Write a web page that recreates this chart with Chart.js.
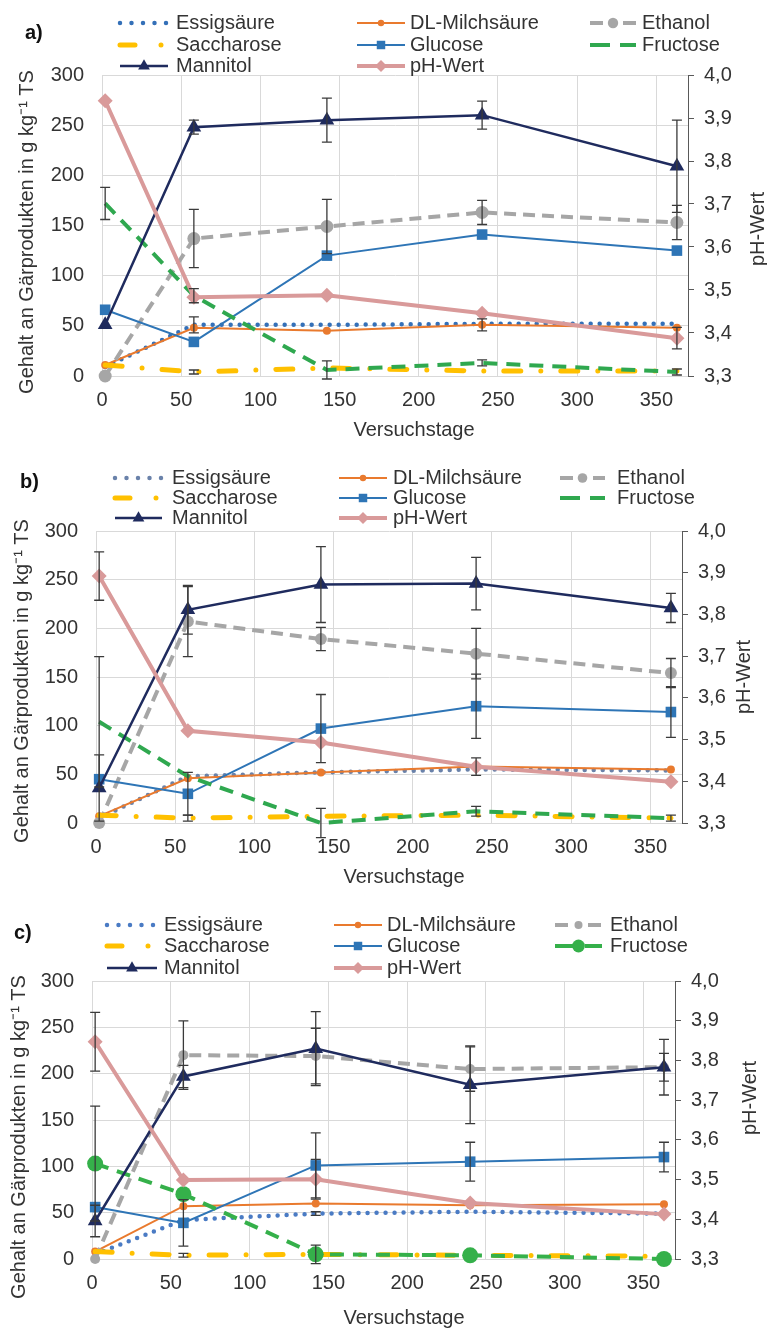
<!DOCTYPE html>
<html>
<head>
<meta charset="utf-8">
<script src="https://cdn.jsdelivr.net/npm/chart.js@4.4.1/dist/chart.umd.min.js"></script>
<style>
body{margin:0;background:#fff;overflow:hidden;width:767px;height:1328px;position:relative}
.panel{position:absolute;left:0;width:767px}
#pa{top:0;height:445px}
#pb{top:445px;height:450px}
#pc{top:895px;height:433px}
</style>
</head>
<body>
<div class="panel" id="pa"><canvas id="chartA"></canvas></div>
<div class="panel" id="pb"><canvas id="chartB"></canvas></div>
<div class="panel" id="pc"><canvas id="chartC"></canvas></div>
<script>
// x values (Versuchstage) and axis ticks
const days = [2, 58, 142, 240, 363]
const xTicks = [0, 50, 100, 150, 200, 250, 300, 350]
const gTicks = [0, 50, 100, 150, 200, 250, 300]
const phTicks = [3.3, 3.4, 3.5, 3.6, 3.7, 3.8, 3.9, 4.0]
const names = ["Essigsäure", "DL-Milchsäure", "Ethanol", "Saccharose", "Glucose", "Fructose", "Mannitol", "pH-Wert"]

// a)
const essigA = [9, 51, 51, 52, 52]
const milchA = [11, 48, 45, 51, 48]
const ethanolA = [0, 137, 149, 163, 153]
const saccharoseA = [11, 4, 8, 5, 5]
const glucoseA = [66, 34, 120, 141, 125]
const fructoseA = [172, 80, 6, 13, 4]
const mannitolA = [51, 248, 255, 260, 209]
const phA = [3.94, 3.483, 3.488, 3.446, 3.388]
const essigErrA = [null, 8, null, null, null]
const milchErrA = [null, null, null, 6, null]
const ethanolErrA = [null, 29, 27, 12, 17]
const saccharoseErrA = [null, 2, null, null, null]
const glucoseErrA = [null, null, null, null, null]
const fructoseErrA = [16, 7, 9, 3, 3]
const mannitolErrA = [null, 7, 22, 14, 46]
const phErrA = [null, null, null, null, 0.025]

// b)
const essigB = [5, 48, 52, 55, 54]
const milchB = [7, 46, 52, 58, 55]
const ethanolB = [0, 207, 189, 174, 154]
const saccharoseB = [8, 5, 7, 8, 5]
const glucoseB = [45, 30, 97, 120, 114]
const fructoseB = [104, 48, 0, 12, 5]
const mannitolB = [36, 219, 245, 246, 221]
const phB = [3.892, 3.521, 3.493, 3.435, 3.399]
const essigErrB = [null, null, null, null, null]
const milchErrB = [null, null, null, 9, null]
const ethanolErrB = [null, 36, 12, 26, 15]
const saccharoseErrB = [null, 3, null, null, null]
const glucoseErrB = [null, 22, 35, 33, 26]
const fructoseErrB = [67, null, 15, 5, 3]
const mannitolErrB = [34, 25, 39, 27, 15]
const phErrB = [0.058, null, null, null, null]

// c)
const essigC = [5, 42, 49, 51, 49]
const milchC = [8, 57, 60, 58, 59]
const ethanolC = [0, 220, 219, 205, 207]
const saccharoseC = [8, 4, 5, 4, 3]
const glucoseC = [56, 39, 101, 105, 110]
const fructoseC = [103, 70, 5, 4, 0]
const mannitolC = [41, 197, 227, 188, 207]
const phC = [3.847, 3.499, 3.501, 3.441, 3.413]
const essigErrC = [null, null, 2, null, null]
const milchErrC = [null, null, null, null, null]
const ethanolErrC = [null, 37, 30, 24, 15]
const saccharoseErrC = [null, 2, null, null, null]
const glucoseErrC = [null, 25, 35, 21, 16]
const fructoseErrC = [62, null, 10, null, null]
const mannitolErrC = [17, 12, 40, 42, 30]
const phErrC = [0.074, null, 0.05, null, null]

const FONT = '"Liberation Sans", Arial, sans-serif'
Chart.defaults.font.family = FONT
Chart.defaults.font.size = 20
Chart.defaults.color = '#333'

// line styles, same order as names
const styles = [
  {color: '#3470b8', width: 4.5, dash: [0, 9], cap: 'round', legendDash: [0, 11.5]},
  {color: '#e97a2e', width: 2, point: 'circle', r: 4},
  {color: '#a6a6a6', width: 4, dash: [12, 7], point: 'circle', r: 6.5, legendDash: [13, 20]},
  {color: '#ffc000', width: 5, dash: [17, 20, 0, 20], cap: 'round', legendDash: [15, 26, 0, 60]},
  {color: '#2e75b6', width: 2, point: 'rect', r: 7.5},
  {color: '#2fa84f', width: 4, dash: [14, 9], legendDash: [20, 10]},
  {color: '#1f2b5e', width: 2.5, point: 'triangle', r: 8.5},
  {color: '#d99a9a', width: 4, point: 'rectRot', r: 7.5, axis: 'y2'}
]

function drawMarker(ctx, kind, x, y, r, color) {
  ctx.fillStyle = color
  ctx.beginPath()
  if (kind === 'circle') ctx.arc(x, y, r, 0, Math.PI * 2)
  else if (kind === 'rect') { const s = r * Math.SQRT1_2; ctx.rect(x - s, y - s, 2 * s, 2 * s) }
  else if (kind === 'rectRot') { ctx.moveTo(x, y - r); ctx.lineTo(x + r, y); ctx.lineTo(x, y + r); ctx.lineTo(x - r, y); ctx.closePath() }
  else if (kind === 'triangle') { ctx.moveTo(x, y - r); ctx.lineTo(x + r * 0.866, y + r * 0.5); ctx.lineTo(x - r * 0.866, y + r * 0.5); ctx.closePath() }
  ctx.fill()
}

//error bars on top of the lines
const errorBars = {
  id: 'errorBars',
  afterDatasetsDraw(chart) {
    const ctx = chart.ctx
    ctx.save()
    ctx.strokeStyle = '#3a3a3a'
    ctx.lineWidth = 1.3
    chart.data.datasets.forEach(ds => {
      const ys = chart.scales[ds.yAxisID]
      ds.data.forEach((p, k) => {
        const e = ds.errors[k]
        if (e == null) return
        const x = chart.scales.x.getPixelForValue(p.x)
        const y1 = ys.getPixelForValue(p.y + e)
        const y2 = ys.getPixelForValue(p.y - e)
        ctx.beginPath()
        ctx.moveTo(x, y1); ctx.lineTo(x, y2)
        ctx.moveTo(x - 5, y1); ctx.lineTo(x + 5, y1)
        ctx.moveTo(x - 5, y2); ctx.lineTo(x + 5, y2)
        ctx.stroke()
      })
    })
    ctx.restore()
  }
}

function makePanel(id, o) {
  const st = styles.map((s, i) => Object.assign({}, s, (o.over || {})[i]))
  const deco = {
    id: 'deco',
    afterDraw(chart) {
      const ctx = chart.ctx
      ctx.save()
      ctx.textBaseline = 'middle'
      ctx.font = 'bold 20px ' + FONT
      ctx.fillStyle = '#111'
      ctx.fillText(o.tag, o.tagX, o.tagY)
      ctx.font = '20px ' + FONT
      ctx.fillStyle = '#333'
      // legend, 3 columns
      st.forEach((s, i) => {
        const c = o.cols[i % 3], y = o.rows[Math.floor(i / 3)]
        ctx.save()
        ctx.strokeStyle = s.color
        ctx.lineWidth = s.width
        ctx.lineCap = s.cap || 'butt'
        ctx.setLineDash(s.legendDash || s.dash || [])
        ctx.beginPath(); ctx.moveTo(c[0], y); ctx.lineTo(c[1], y); ctx.stroke()
        ctx.restore()
        if (s.point) drawMarker(ctx, s.point, (c[0] + c[1]) / 2, y, s.r * 0.8, s.color)
        ctx.fillStyle = '#333'
        ctx.fillText(names[i], c[2], y)
      })
      // axis titles
      ctx.textAlign = 'center'
      ctx.fillText('Versuchstage', o.xt[0], o.xt[1])
      ctx.save()
      ctx.translate(o.yt[0], o.yt[1]); ctx.rotate(-Math.PI / 2)
      ctx.fillText('Gehalt an Gärprodukten in g kg⁻¹ TS', 0, 0)
      ctx.restore()
      ctx.save()
      ctx.translate(o.rt[0], o.rt[1]); ctx.rotate(-Math.PI / 2)
      ctx.fillText('pH-Wert', 0, 0)
      ctx.restore()
      ctx.restore()
    }
  }
  const datasets = names.map((n, i) => {
    const s = st[i]
    return {
      label: n,
      data: days.map((d, k) => ({x: d, y: o.series[i][k]})),
      errors: o.errs[i],
      yAxisID: s.axis || 'y',
      order: 7 - i,
      borderColor: s.color,
      backgroundColor: s.color,
      borderWidth: s.width,
      borderDash: s.dash || [],
      borderCapStyle: s.cap || 'butt',
      pointStyle: s.point || 'circle',
      pointRadius: s.point ? s.r : 0,
      pointHoverRadius: s.point ? s.r : 0,
      pointBorderWidth: 0,
      tension: 0,
      clip: false
    }
  })
  new Chart(document.getElementById(id), {
    type: 'line',
    data: {datasets},
    options: {
      responsive: true,
      maintainAspectRatio: false,
      animation: false,
      layout: {padding: {top: o.top, left: 0, right: 0, bottom: 0}},
      plugins: {legend: {display: false}, tooltip: {enabled: false}},
      scales: {
        x: {
          type: 'linear', min: 0, max: 370,
          afterBuildTicks: s => { s.ticks = xTicks.map(v => ({value: v})) },
          afterFit: s => { s.height = o.h - o.bottom },
          grid: {color: '#d9d9d9', drawTicks: false},
          border: {color: '#d9d9d9'},
          ticks: {padding: 12, maxRotation: 0, autoSkip: false}
        },
        y: {
          position: 'left', min: 0, max: 300,
          afterBuildTicks: s => { s.ticks = gTicks.map(v => ({value: v})) },
          afterFit: s => { s.width = o.left },
          grid: {color: '#d9d9d9', drawTicks: false},
          border: {color: '#d9d9d9'},
          ticks: {padding: 18}
        },
        y2: {
          position: 'right', min: 3.3, max: 4.0,
          afterBuildTicks: s => { s.ticks = phTicks.map(v => ({value: v})) },
          afterFit: s => { s.width = 767 - o.right },
          grid: {drawOnChartArea: false, drawTicks: true, tickLength: 6, color: '#595959'},
          border: {color: '#595959'},
          ticks: {padding: 10, callback: v => v.toFixed(1).replace('.', ',')}
        }
      }
    },
    plugins: [errorBars, deco]
  })
}

makePanel('chartA', {
  series: [essigA, milchA, ethanolA, saccharoseA, glucoseA, fructoseA, mannitolA, phA],
  errs: [essigErrA, milchErrA, ethanolErrA, saccharoseErrA, glucoseErrA, fructoseErrA, mannitolErrA, phErrA],
  h: 445, top: 75, bottom: 376, left: 102, right: 688,
  tag: 'a)', tagX: 25, tagY: 33,
  cols: [[120, 168, 176], [357, 405, 410], [590, 636, 642]], rows: [23, 45, 66],
  xt: [414, 430], yt: [27, 232], rt: [758, 229]
})
makePanel('chartB', {
  series: [essigB, milchB, ethanolB, saccharoseB, glucoseB, fructoseB, mannitolB, phB],
  errs: [essigErrB, milchErrB, ethanolErrB, saccharoseErrB, glucoseErrB, fructoseErrB, mannitolErrB, phErrB],
  h: 450, top: 86, bottom: 378, left: 96, right: 682,
  tag: 'b)', tagX: 20, tagY: 37,
  cols: [[115, 162, 172], [339, 387, 393], [560, 605, 617]], rows: [33, 53, 73],
  xt: [404, 432], yt: [22, 236], rt: [744, 232],
  over: {0: {color: '#6a82aa'}, 2: {r: 6}}
})
makePanel('chartC', {
  series: [essigC, milchC, ethanolC, saccharoseC, glucoseC, fructoseC, mannitolC, phC],
  errs: [essigErrC, milchErrC, ethanolErrC, saccharoseErrC, glucoseErrC, fructoseErrC, mannitolErrC, phErrC],
  h: 433, top: 86, bottom: 364, left: 92, right: 675,
  tag: 'c)', tagX: 14, tagY: 38,
  cols: [[107, 157, 164], [334, 382, 387], [555, 602, 610]], rows: [30, 51, 73],
  xt: [404, 423], yt: [19, 242], rt: [750, 203],
  over: {0: {color: '#4a7bc4'}, 2: {r: 5}, 5: {color: '#35b04a', point: 'circle', r: 8}}
})
</script>
</body>
</html>
